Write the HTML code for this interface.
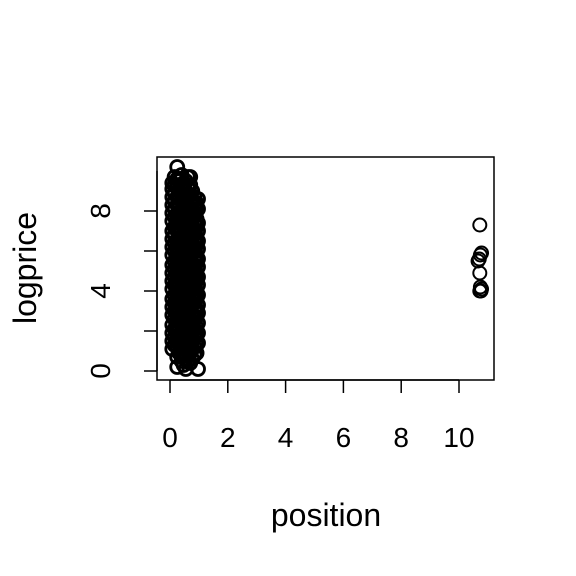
<!DOCTYPE html>
<html><head><meta charset="utf-8"><style>body{margin:0;background:#fff}svg{display:block}text{font-family:"Liberation Sans",sans-serif;fill:#000}</style></head>
<body>
<svg id="chart" width="576" height="576" viewBox="0 0 576 576">
<rect x="0" y="0" width="576" height="576" fill="#fff"/>
<g id="g"></g>
</svg>
<script>
const xTicks=[0,2,4,6,8,10];
const yTicks=[0,2,4,6,8];
const yTickLabels=["0","","4","","8"];
const clusterX=[0.08,0.25,0.4,0.55,0.7,0.85,0.97,0.16,0.32,0.47,0.62,0.77,0.92];
const clusterY=[
[1.1,1.5,1.9,2.3,2.8,3.2,3.6,4.1,4.5,4.9,5.3,5.8,6.2,6.6,7.0,7.5,7.9,8.3,8.7,9.1,9.4],
[0.2,0.7,1.2,1.6,2.1,2.5,3.0,3.4,3.9,4.3,4.8,5.2,5.6,6.1,6.5,7.0,7.4,7.8,8.3,8.7,9.2,9.6,10.2],
[0.5,1.0,1.4,1.8,2.3,2.7,3.2,3.6,4.0,4.5,4.9,5.4,5.8,6.3,6.7,7.1,7.6,8.0,8.5,8.9,9.3,9.8],
[0.1,0.6,1.1,1.5,2.0,2.4,2.9,3.3,3.8,4.2,4.7,5.1,5.5,6.0,6.4,6.9,7.3,7.7,8.2,8.6,9.0,9.5],
[0.4,0.9,1.3,1.8,2.2,2.6,3.1,3.5,4.0,4.4,4.9,5.3,5.7,6.2,6.6,7.1,7.5,7.9,8.4,8.8,9.3,9.7],
[0.8,1.2,1.7,2.1,2.6,3.0,3.5,3.9,4.4,4.8,5.2,5.7,6.1,6.6,7.0,7.4,7.9,8.3,8.7],
[0.1,1.4,1.9,2.4,2.9,3.3,3.8,4.3,4.7,5.2,5.6,6.1,6.5,7.0,7.4,8.1,8.6],
[1.3,1.7,2.1,2.6,3.0,3.4,3.8,4.3,4.7,5.1,5.5,6.0,6.4,6.8,7.2,7.7,8.1,8.5,8.9,9.3,9.7],
[0.9,1.4,1.8,2.2,2.7,3.1,3.5,4.0,4.4,4.8,5.2,5.7,6.1,6.5,6.9,7.4,7.8,8.2,8.6,9.0,9.5],
[0.3,0.8,1.2,1.7,2.1,2.5,3.0,3.4,3.8,4.3,4.7,5.1,5.6,6.0,6.4,6.8,7.3,7.7,8.1,8.6,9.0,9.4],
[0.5,1.0,1.4,1.9,2.3,2.7,3.2,3.6,4.0,4.5,4.9,5.3,5.8,6.2,6.6,7.0,7.5,7.9,8.3,8.8,9.2,9.7],
[0.6,1.1,1.5,2.0,2.4,2.8,3.3,3.7,4.1,4.6,5.0,5.4,5.9,6.3,6.7,7.2,7.6,8.0,8.5,9.0],
[0.9,1.3,1.8,2.2,2.7,3.1,3.6,4.0,4.5,4.9,5.4,5.8,6.3,6.7,7.2,7.6,8.0,8.4]
];
const outX=[10.72,10.78,10.74,10.7,10.66,10.72,10.74,10.78,10.72,10.76];
const outY=[7.3,5.9,5.8,5.6,5.5,4.9,4.2,4.1,4.0,4.0];
const NS="http://www.w3.org/2000/svg";
const g=document.getElementById('g');
const sx=v=>170+v*28.9;
const sy=v=>371-v*20;
function mk(t,a){const e=document.createElementNS(NS,t);for(const k in a)e.setAttribute(k,a[k]);g.appendChild(e);return e;}
function pt(x,y,w){const c=mk('circle',{cx:sx(x),cy:sy(y),r:6.5,fill:'none',stroke:'#000','stroke-width':w});

}
clusterX.forEach((x,i)=>clusterY[i].forEach(y=>pt(x,y,2.8)));
outX.forEach((x,i)=>pt(x,outY[i],2));
const box=mk('rect',{x:157,y:157,width:337,height:223,fill:'none',stroke:'#000','stroke-width':1.5});


const xa=mk('line',{x1:sx(0),x2:sx(10),y1:380,y2:380,stroke:'#000','stroke-width':1.5});


xTicks.forEach(v=>{const t=mk('line',{x1:sx(v),x2:sx(v),y1:380,y2:393,stroke:'#000','stroke-width':1.5});


const l=mk('text',{x:sx(v),y:447,'font-size':28,'text-anchor':'middle'});l.textContent=v;

});
const ya=mk('line',{x1:157,x2:157,y1:sy(0),y2:sy(10),stroke:'#000','stroke-width':1.5});


yTicks.forEach((v,i)=>{const t=mk('line',{x1:144,x2:157,y1:sy(v),y2:sy(v),stroke:'#000','stroke-width':1.5});


if(yTickLabels[i]){const l=mk('text',{x:0,y:0,'font-size':28,'text-anchor':'middle',transform:`translate(110,${sy(v)}) rotate(-90)`});l.textContent=yTickLabels[i];

}});
const xt=mk('text',{x:326,y:526,'font-size':32,'text-anchor':'middle'});xt.textContent='position';


const yt=mk('text',{x:0,y:0,'font-size':32,'text-anchor':'middle',transform:'translate(36,268) rotate(-90)'});yt.textContent='logprice';


</script>
</body></html>
